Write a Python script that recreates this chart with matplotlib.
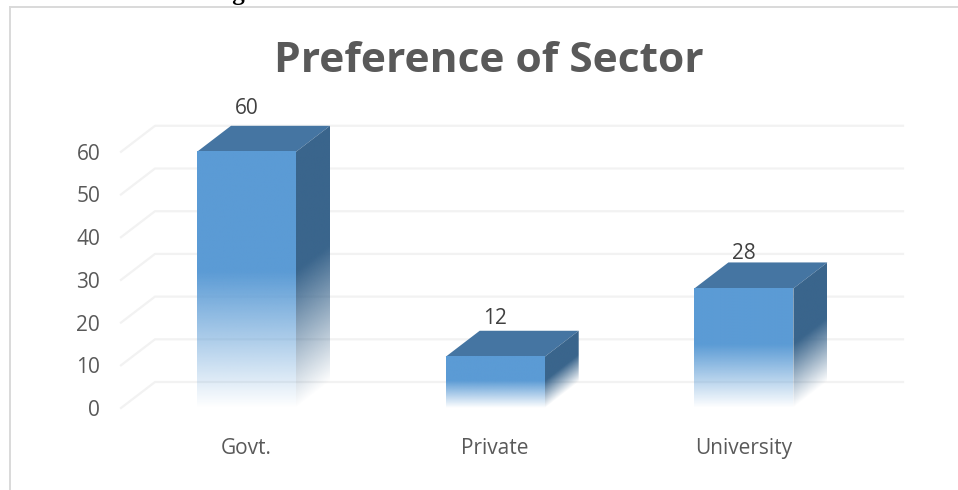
import matplotlib
matplotlib.use('Agg')
import matplotlib.pyplot as plt
import numpy as np
from matplotlib.colors import to_rgb
from matplotlib.lines import Line2D
from matplotlib.patches import Polygon

plt.rcParams['font.family'] = ['Open Sans', 'DejaVu Sans']

categories = ['Govt.', 'Private', 'University']
values = [60, 12, 28]
y_ticks = [0, 10, 20, 30, 40, 50, 60]

W, H = 958, 490
# axes box in pixels: zero line at y=408, value 60 at y=151.8
left, right, y_zero = 121, 903, 408
px_per_unit = 4.27
x0_px, x_step_px = 246.5, 248.7
bar_w = 99 / x_step_px
depth_x = 34 / x_step_px
depth_y = 26 / px_per_unit
label_pads = [43.5, 38, 35]
fade_part = 0.53

front_col = '#5b9bd5'
top_col = '#4575a2'
side_col = '#3a658c'
grid_col = '#f2f2f2'
text_col = '#595959'


def fade_image(color, nx, ny, func):
    # RGBA array that runs from the solid colour to transparent
    xx, yy = np.meshgrid(np.linspace(0, 1, nx), np.linspace(0, 1, ny))
    img = np.zeros((ny, nx, 4))
    img[..., :3] = to_rgb(color)
    img[..., 3] = np.clip(func(xx, yy), 0, 1)
    return img


fig = plt.figure(figsize=(W / 100, H / 100), dpi=100)
y_top = 60 + depth_y
ax = fig.add_axes([left / W, 1 - y_zero / H, (right - left) / W, y_top * px_per_unit / H])
ax.set_xlim((left - x0_px) / x_step_px, (right - x0_px) / x_step_px)
ax.set_ylim(0, y_top)
for s in ax.spines.values():
    s.set_visible(False)

# floor-to-wall gridlines
xl = ax.get_xlim()
for t in y_ticks:
    ax.plot([xl[0], xl[0] + depth_x, xl[1]], [t, t + depth_y, t + depth_y],
            color=grid_col, lw=1.6, zorder=1, clip_on=False)

for i, v in enumerate(values):
    x1 = i - bar_w / 2
    x2 = i + bar_w / 2

    top = Polygon([(x1, v), (x2, v), (x2 + depth_x, v + depth_y), (x1 + depth_x, v + depth_y)],
                  closed=True, fc=top_col, ec='none', zorder=3, clip_on=False)
    ax.add_patch(top)

    # front face: solid in the upper part, fades out towards the floor
    front_img = fade_image(front_col, 2, 200, lambda xx, yy: (1 - yy) / fade_part)
    ax.imshow(front_img, extent=(x1, x2, 0, v), origin='upper', aspect='auto',
              zorder=3, interpolation='bilinear')

    # side face: the fade follows the slant of the depth edge
    poly = Polygon([(x2, v), (x2 + depth_x, v + depth_y), (x2 + depth_x, depth_y), (x2, 0)],
                   closed=True, transform=ax.transData)
    span = v + depth_y
    side_img = fade_image(side_col, 60, 300,
                          lambda xx, yy: ((1 - yy) * span - xx * depth_y) / (v * fade_part))
    im = ax.imshow(side_img, extent=(x2, x2 + depth_x, 0, span), origin='upper', aspect='auto',
                   zorder=3, interpolation='bilinear')
    im.set_clip_path(poly)

    ax.annotate(str(v), (i, v), xytext=(0, label_pads[i] * 0.72), textcoords='offset points',
                ha='center', va='center', fontsize=15, color='#404040', zorder=5)

ax.set_xlim(xl)
ax.set_ylim(0, y_top)

ax.set_xticks(range(len(categories)))
ax.set_xticklabels(categories, fontsize=15, color=text_col)
ax.set_yticks(y_ticks)
ax.set_yticklabels([str(t) for t in y_ticks], fontsize=15, color=text_col)
ax.tick_params(axis='x', length=0, pad=21.5)
ax.tick_params(axis='y', length=0, pad=15)

fig.text(489 / W, 1 - 72 / H, 'Preference of Sector', ha='center', va='baseline',
         fontsize=30.6, fontweight='bold', color=text_col)

# caption running off the top edge
fig.text(484 / W, 1 + 0.4 / H, 'Figure 1: Preference of Sector to Work Habituation',
         ha='center', va='baseline', fontsize=18, fontweight='bold',
         family='Liberation Serif', color='black')

# outer frame, top and left edges only
fig.add_artist(Line2D([10 / W, 10 / W], [0, 1 - 7 / H], color='#d9d9d9', lw=1.4))
fig.add_artist(Line2D([10 / W, 1], [1 - 7 / H, 1 - 7 / H], color='#d9d9d9', lw=1.4))

fig.savefig('out.png', dpi=100)
